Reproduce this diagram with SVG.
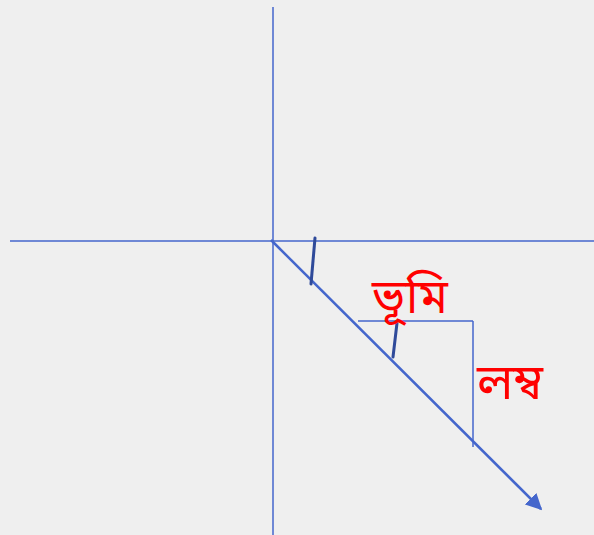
<svg xmlns="http://www.w3.org/2000/svg" width="594" height="535" viewBox="0 0 594 535">
<defs>
<marker id="arr" viewBox="0 0 10 10" refX="9" refY="5" markerWidth="6.5" markerHeight="6.5" markerUnits="strokeWidth" orient="auto">
<path d="M0,0 L10,5 L0,10 z" fill="#4466CC"/>
</marker>
</defs>
<style>
.axis{stroke:#4466CC;stroke-width:1.5;fill:none}
.vec{stroke:#4466CC;stroke-width:2.5;fill:none}
.tick{stroke:#2F4A9A;stroke-width:3;fill:none;stroke-linecap:round}
.lbl{fill:#FF0000;font-family:"Noto Sans Bengali","Noto Serif Bengali","Lohit Bengali",Vrinda,"Noto Sans",sans-serif}
</style>
<rect width="594" height="535" fill="#EFEFEF"/>
<g id="axes">
<line class="axis" x1="10" y1="241" x2="594" y2="241"/>
<line class="axis" x1="273" y1="7" x2="273" y2="535"/>
</g>
<g id="connectors">
<line class="vec" x1="271" y1="240" x2="541" y2="509" marker-end="url(#arr)"/>
<line class="axis" x1="358" y1="321" x2="473" y2="321"/>
<line class="axis" x1="473" y1="321" x2="473" y2="447"/>
<line class="tick" x1="315" y1="238" x2="311" y2="284"/>
<line class="tick" x1="397" y1="323" x2="393" y2="357"/>
</g>
<g id="label-bhumi"><text class="lbl" x="372" y="313" font-size="48">ভূমি</text></g>
<g id="label-lamba"><text class="lbl" x="477" y="399" font-size="50">লম্ব</text></g>
</svg>
